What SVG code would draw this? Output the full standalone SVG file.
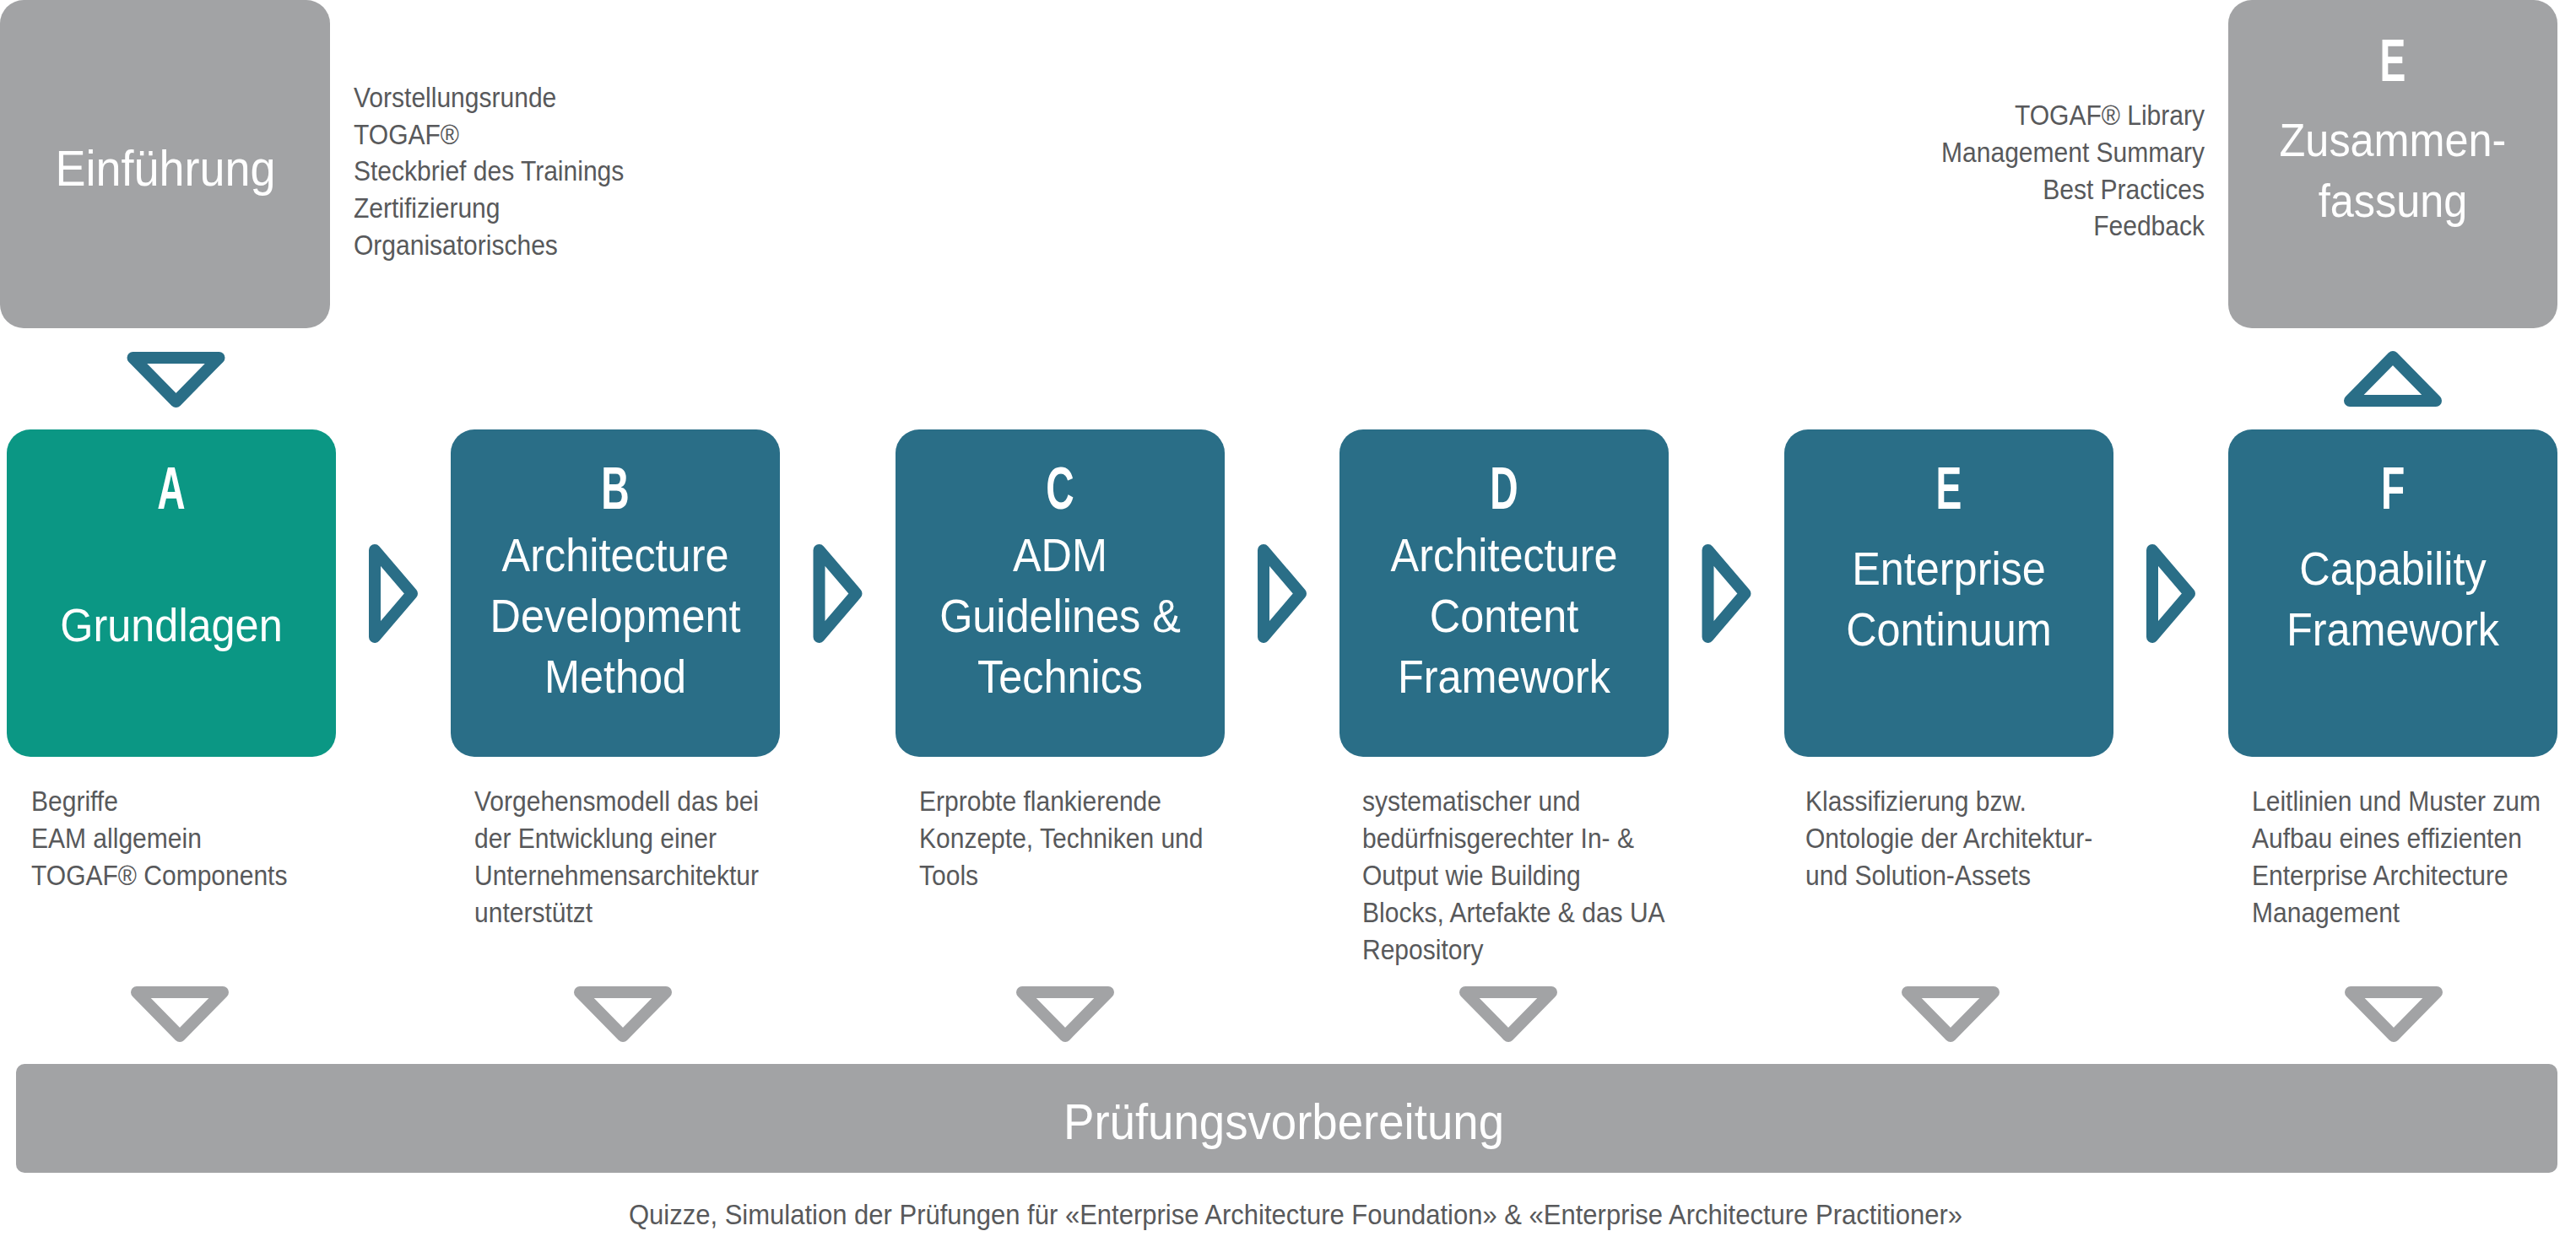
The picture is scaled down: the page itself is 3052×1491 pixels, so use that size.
<svg xmlns="http://www.w3.org/2000/svg" width="3052" height="1491" viewBox="0 0 3052 1491">
<style>
text{font-family:'Liberation Sans',Arial,sans-serif}
.w{fill:#ffffff;text-anchor:middle;font-size:56px}
.w60{font-size:60px}
.L{font-size:70px;font-weight:bold}
.s{fill:#58595b;font-size:33px}
.e{text-anchor:end}
.grey{fill:#a2a3a5}
.blue{fill:#2a6e87}
.green{fill:#0b9784}
.arrT{fill:none;stroke:#2a6e87;stroke-width:14;stroke-linejoin:round}
.arrG{fill:none;stroke:#a2a3a5;stroke-width:14;stroke-linejoin:round}
</style>
<rect width="3052" height="1491" fill="#ffffff"/>

<g id="intro">
<rect class="grey" x="0" y="0" width="391" height="389" rx="28"/>
<text class="w w60" transform="translate(196 220) scale(0.9 1)">Einführung</text>
<g class="s">
<text class="s" transform="translate(419 127) scale(0.91 1)">Vorstellungsrunde</text>
<text class="s" transform="translate(419 171) scale(0.91 1)">TOGAF®</text>
<text class="s" transform="translate(419 214) scale(0.91 1)">Steckbrief des Trainings</text>
<text class="s" transform="translate(419 258) scale(0.91 1)">Zertifizierung</text>
<text class="s" transform="translate(419 302) scale(0.91 1)">Organisatorisches</text>
</g>
</g>

<g id="summary">
<rect class="grey" x="2640" y="0" width="390" height="389" rx="28"/>
<text class="w L" transform="translate(2835 96) scale(0.66 1)">E</text>
<text class="w" transform="translate(2835 185) scale(0.9 1)">Zusammen-</text>
<text class="w" transform="translate(2835 257) scale(0.9 1)">fassung</text>
<text class="s e" transform="translate(2612 148) scale(0.91 1)">TOGAF® Library</text>
<text class="s e" transform="translate(2612 192) scale(0.91 1)">Management Summary</text>
<text class="s e" transform="translate(2612 236) scale(0.91 1)">Best Practices</text>
<text class="s e" transform="translate(2612 279) scale(0.91 1)">Feedback</text>
</g>

<g id="nodeA">
<rect class="green" x="8" y="509" width="390" height="388" rx="28"/>
<text class="w L" transform="translate(203 603) scale(0.66 1)">A</text>
<text class="w" transform="translate(203 760) scale(0.9 1)">Grundlagen</text>
<text class="s" transform="translate(37 961) scale(0.91 1)">Begriffe</text>
<text class="s" transform="translate(37 1005) scale(0.91 1)">EAM allgemein</text>
<text class="s" transform="translate(37 1049) scale(0.91 1)">TOGAF® Components</text>
</g>

<g id="nodeB">
<rect class="blue" x="534" y="509" width="390" height="388" rx="28"/>
<text class="w L" transform="translate(729 603) scale(0.66 1)">B</text>
<text class="w" transform="translate(729 677) scale(0.9 1)">Architecture</text>
<text class="w" transform="translate(729 749) scale(0.9 1)">Development</text>
<text class="w" transform="translate(729 821) scale(0.9 1)">Method</text>
<text class="s" transform="translate(562 961) scale(0.91 1)">Vorgehensmodell das bei</text>
<text class="s" transform="translate(562 1005) scale(0.91 1)">der Entwicklung einer</text>
<text class="s" transform="translate(562 1049) scale(0.91 1)">Unternehmensarchitektur</text>
<text class="s" transform="translate(562 1093) scale(0.91 1)">unterstützt</text>
</g>

<g id="nodeC">
<rect class="blue" x="1061" y="509" width="390" height="388" rx="28"/>
<text class="w L" transform="translate(1256 603) scale(0.66 1)">C</text>
<text class="w" transform="translate(1256 677) scale(0.9 1)">ADM</text>
<text class="w" transform="translate(1256 749) scale(0.9 1)">Guidelines &amp;</text>
<text class="w" transform="translate(1256 821) scale(0.9 1)">Technics</text>
<text class="s" transform="translate(1089 961) scale(0.91 1)">Erprobte flankierende</text>
<text class="s" transform="translate(1089 1005) scale(0.91 1)">Konzepte, Techniken und</text>
<text class="s" transform="translate(1089 1049) scale(0.91 1)">Tools</text>
</g>

<g id="nodeD">
<rect class="blue" x="1587" y="509" width="390" height="388" rx="28"/>
<text class="w L" transform="translate(1782 603) scale(0.66 1)">D</text>
<text class="w" transform="translate(1782 677) scale(0.9 1)">Architecture</text>
<text class="w" transform="translate(1782 749) scale(0.9 1)">Content</text>
<text class="w" transform="translate(1782 821) scale(0.9 1)">Framework</text>
<text class="s" transform="translate(1614 961) scale(0.91 1)">systematischer und</text>
<text class="s" transform="translate(1614 1005) scale(0.91 1)">bedürfnisgerechter In- &amp;</text>
<text class="s" transform="translate(1614 1049) scale(0.91 1)">Output wie Building</text>
<text class="s" transform="translate(1614 1093) scale(0.91 1)">Blocks, Artefakte &amp; das UA</text>
<text class="s" transform="translate(1614 1137) scale(0.91 1)">Repository</text>
</g>

<g id="nodeE">
<rect class="blue" x="2114" y="509" width="390" height="388" rx="28"/>
<text class="w L" transform="translate(2309 603) scale(0.66 1)">E</text>
<text class="w" transform="translate(2309 693) scale(0.9 1)">Enterprise</text>
<text class="w" transform="translate(2309 765) scale(0.9 1)">Continuum</text>
<text class="s" transform="translate(2139 961) scale(0.91 1)">Klassifizierung bzw.</text>
<text class="s" transform="translate(2139 1005) scale(0.91 1)">Ontologie der Architektur-</text>
<text class="s" transform="translate(2139 1049) scale(0.91 1)">und Solution-Assets</text>
</g>

<g id="nodeF">
<rect class="blue" x="2640" y="509" width="390" height="388" rx="28"/>
<text class="w L" transform="translate(2835 603) scale(0.66 1)">F</text>
<text class="w" transform="translate(2835 693) scale(0.9 1)">Capability</text>
<text class="w" transform="translate(2835 765) scale(0.9 1)">Framework</text>
<text class="s" transform="translate(2668 961) scale(0.91 1)">Leitlinien und Muster zum</text>
<text class="s" transform="translate(2668 1005) scale(0.91 1)">Aufbau eines effizienten</text>
<text class="s" transform="translate(2668 1049) scale(0.91 1)">Enterprise Architecture</text>
<text class="s" transform="translate(2668 1093) scale(0.91 1)">Management</text>
</g>

<g id="exam">
<rect class="grey" x="19" y="1261" width="3011" height="129" rx="10"/>
<text class="w w60" transform="translate(1521 1350) scale(0.91 1)">Prüfungsvorbereitung</text>
<text class="s" x="1535" y="1451" text-anchor="middle" textLength="1580" lengthAdjust="spacingAndGlyphs">Quizze, Simulation der Prüfungen für «Enterprise Architecture Foundation» &amp; «Enterprise Architecture Practitioner»</text>
</g>

<g id="connectors">
<path class="arrT" d="M157.5,424 L259.5,424 L208.5,476 Z"/>
<path class="arrT" d="M2784,475 L2886,475 L2835,423 Z"/>
<path class="arrT" d="M444,652 L488,703.5 L444,755 Z"/>
<path class="arrT" d="M970.5,652 L1014.5,703.5 L970.5,755 Z"/>
<path class="arrT" d="M1497,652 L1541,703.5 L1497,755 Z"/>
<path class="arrT" d="M2023.5,652 L2067.5,703.5 L2023.5,755 Z"/>
<path class="arrT" d="M2550,652 L2594,703.5 L2550,755 Z"/>
<path class="arrG" d="M162,1176 L264,1176 L213,1228 Z"/>
<path class="arrG" d="M687,1176 L789,1176 L738,1228 Z"/>
<path class="arrG" d="M1211,1176 L1313,1176 L1262,1228 Z"/>
<path class="arrG" d="M1736,1176 L1838,1176 L1787,1228 Z"/>
<path class="arrG" d="M2260,1176 L2362,1176 L2311,1228 Z"/>
<path class="arrG" d="M2785,1176 L2887,1176 L2836,1228 Z"/>
</g>
</svg>
